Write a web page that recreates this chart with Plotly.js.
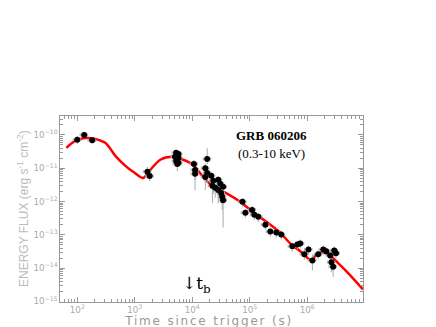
<!DOCTYPE html>
<html>
<head>
<meta charset="utf-8">
<script src="https://cdn.plot.ly/plotly-3.0.1.min.js"></script>
<style>
  html, body { margin: 0; padding: 0; background: #fff; }
  #chart { width: 436px; height: 327px; }
  .wide text { letter-spacing: 1.8px; }
</style>
</head>
<body>
<div id="chart"></div>
<script>
// observed X-ray light curve, GRB 060206 (time in s, flux in erg s^-1 cm^-2)
const obsTime = [100, 132, 182, 1660, 1820,
  5250, 5750, 5010, 5750, 5250, 5750, 5500,
  10700, 11200, 11200, 18200, 16900, 18200, 16900, 21400, 23200, 22400, 25100,
  28300, 30700, 28300, 31800, 34400, 33200, 34400,
  74800, 83900, 110000, 120000, 141000, 187000, 228000, 290000, 353000,
  550000, 673000, 757000, 890000, 1.05e6, 1.23e6, 1.55e6, 1.90e6, 2.14e6,
  2.51e6, 2.63e6, 2.82e6, 2.95e6, 3.16e6];
const obsFlux = [7.2e-11, 1.0e-10, 6.9e-11, 7.9e-12, 5.8e-12,
  2.9e-11, 2.7e-11, 2.2e-11, 2.05e-11, 1.66e-11, 1.45e-11, 1.35e-11,
  1.35e-11, 8.9e-12, 6.8e-12, 1.9e-11, 1.0e-11, 7.2e-12, 5.5e-12, 5.9e-12, 4.2e-12, 3.0e-12, 2.6e-12,
  4.5e-12, 3.4e-12, 2.2e-12, 1.8e-12, 2.8e-12, 1.4e-12, 1.1e-12,
  9.8e-13, 4.6e-13, 5.6e-13, 4.0e-13, 3.5e-13, 2.0e-13, 1.25e-13, 1.17e-13, 1.02e-13,
  4.5e-14, 5.1e-14, 5.5e-14, 2.6e-14, 3.6e-14, 1.7e-14, 2.6e-14, 3.6e-14, 3.2e-14,
  2.4e-14, 1.5e-14, 1.1e-14, 3.4e-14, 2.8e-14];
// relative flux errors (upper / lower)
const errUp = [0.3, 0.25, 0.25, 0.4, 0.4,
  0.2, 0.2, 0.2, 0.2, 0.2, 0.2, 0.2,
  0.3, 0.3, 0.3, 1.1, 0.4, 0.3, 0.3, 0.3, 0.4, 0.4, 0.3,
  0.3, 0.3, 0.3, 0.3, 0.3, 0.3, 0.3,
  0.3, 0.3, 0.3, 0.3, 0.3, 0.3, 0.3, 0.3, 0.3,
  0.3, 0.3, 0.3, 0.3, 0.3, 0.5, 0.3, 0.3, 0.3,
  0.3, 0.4, 0.4, 0.3, 0.3];
const errDown = [0.25, 0.2, 0.2, 0.3, 0.3,
  0.2, 0.2, 0.2, 0.2, 0.2, 0.2, 0.4,
  0.5, 0.5, 0.68, 0.3, 0.5, 0.5, 0.6, 0.5, 0.6, 0.7, 0.5,
  0.4, 0.5, 0.6, 0.5, 0.5, 0.6, 0.85,
  0.3, 0.3, 0.3, 0.3, 0.3, 0.3, 0.3, 0.3, 0.3,
  0.3, 0.3, 0.3, 0.3, 0.3, 0.5, 0.3, 0.3, 0.3,
  0.3, 0.5, 0.5, 0.3, 0.3];

// model curve
const modelTime = [64.6, 92, 138, 206, 307, 477, 680, 940, 1400, 1860, 2780, 4470,
  6940, 10400, 15500, 23200, 40900, 68400, 102000, 171000, 336000, 505000,
  757000, 1.23e6, 1.38e6, 1.70e6, 2.34e6, 3.31e6, 5.0e6, 9.3e6];
const modelFlux = [4.1e-11, 6.6e-11, 8.1e-11, 7.6e-11, 5.8e-11, 2.2e-11, 1.2e-11, 7.8e-12,
  5.1e-12, 8.9e-12, 1.8e-11, 2.2e-11, 1.8e-11, 1.26e-11, 5.5e-12, 2.75e-12,
  1.7e-12, 9.8e-13, 5.6e-13, 2.9e-13, 1.17e-13, 5.5e-14, 3.2e-14, 1.6e-14,
  2.4e-14, 2.9e-14, 2.6e-14, 1.5e-14, 7.4e-15, 2.3e-15];

const grey = '#999';

const points = {
  x: obsTime,
  y: obsFlux,
  mode: 'markers',
  type: 'scatter',
  marker: { color: '#000', size: 6 },
  error_y: {
    type: 'data', symmetric: false,
    array: obsFlux.map((f, i) => f * errUp[i]),
    arrayminus: obsFlux.map((f, i) => f * errDown[i]),
    color: '#aaa', thickness: 1, width: 0
  },
  error_x: { type: 'percent', value: 15, color: '#aaa', thickness: 1, width: 1.5 },
  hoverinfo: 'skip'
};

const model = {
  x: modelTime,
  y: modelFlux,
  mode: 'lines',
  type: 'scatter',
  line: { color: '#f00', width: 2.5, shape: 'spline', smoothing: 0.8 },
  hoverinfo: 'skip'
};

const layout = {
  width: 436,
  height: 327,
  margin: { l: 60, r: 73, t: 116, b: 25 },
  paper_bgcolor: '#fff',
  plot_bgcolor: '#fff',
  showlegend: false,
  font: { family: 'DejaVu Sans', color: grey },
  xaxis: {
    type: 'log',
    range: [1.70, 6.97],
    dtick: 1,
    exponentformat: 'power',
    showgrid: false, zeroline: false,
    showline: true, linecolor: grey, linewidth: 1, mirror: 'ticks',
    ticks: 'inside', ticklen: 5, tickcolor: grey,
    minor: { ticks: 'inside', ticklen: 3, tickcolor: grey },
    tickfont: { size: 7, color: '#aaa' }
  },
  yaxis: {
    type: 'log',
    range: [-15.02, -9.43],
    dtick: 1,
    exponentformat: 'power',
    showgrid: false, zeroline: false,
    showline: true, linecolor: grey, linewidth: 1, mirror: 'ticks',
    ticks: 'inside', ticklen: 5, tickcolor: grey,
    minor: { ticks: 'inside', ticklen: 3, tickcolor: grey },
    tickfont: { size: 7, color: '#aaa' }
  },
  annotations: [
    {
      xref: 'paper', yref: 'paper', x: -0.155, y: 0.5,
      text: 'ENERGY FLUX (erg s<sup>-1</sup> cm<sup>-2</sup>)',
      textangle: -90, showarrow: false,
      font: { family: 'Liberation Sans', size: 12, color: '#bbb' }
    },
    {
      xref: 'paper', yref: 'paper', x: 0.49, y: -0.1, yanchor: 'middle',
      text: 'Time since trigger (s)', showarrow: false,
      font: { family: 'DejaVu Sans', size: 12, color: grey }
    },
    {
      xref: 'x', yref: 'y', x: 5.37, y: -10.03,
      text: '<b>GRB 060206</b>', showarrow: false,
      font: { family: 'Liberation Serif', size: 13, color: '#000' }
    },
    {
      xref: 'x', yref: 'y', x: 5.37, y: -10.57,
      text: '(0.3-10 keV)', showarrow: false,
      font: { family: 'Liberation Serif', size: 13, color: '#000' }
    },
    {
      xref: 'x', yref: 'y', x: 3.78, y: -14.5, xanchor: 'left',
      text: '↓t<sub>b</sub>', showarrow: false,
      font: { family: 'DejaVu Serif', size: 17, color: '#000' }
    }
  ]
};

Plotly.newPlot('chart', [model, points], layout, { staticPlot: true }).then(gd => {
  // the x title in the original is set with wide letter spacing
  const ann = gd.querySelectorAll('.annotation');
  if (ann[1]) ann[1].classList.add('wide');
});
</script>
</body>
</html>
